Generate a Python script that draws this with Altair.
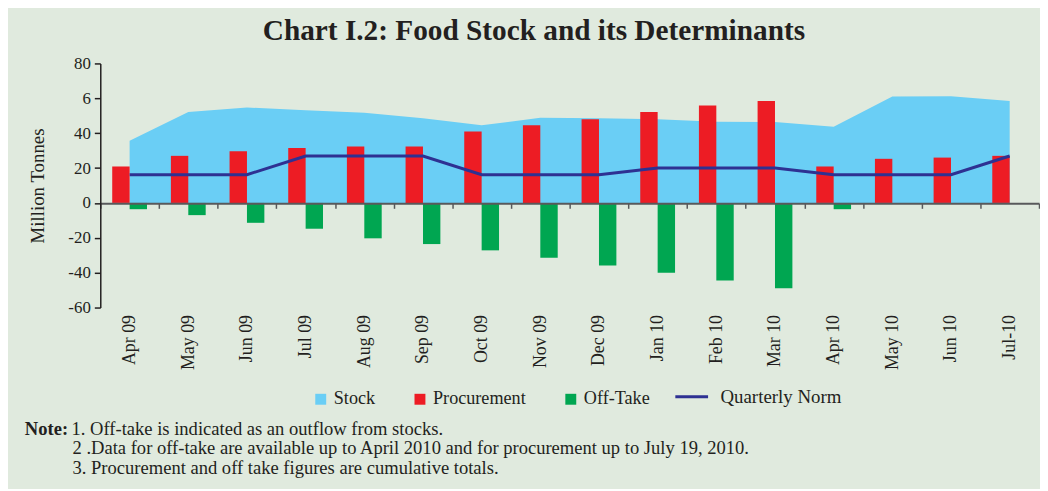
import altair as alt
import pandas as pd

months = ["Apr 09", "May 09", "Jun 09", "Jul 09", "Aug 09", "Sep 09", "Oct 09", "Nov 09",
          "Dec 09", "Jan 10", "Feb 10", "Mar 10", "Apr 10", "May 10", "Jun 10", "Jul-10"]
stock = [35.7, 52.2, 54.7, 53.2, 51.7, 48.5, 44.5, 48.8, 48.6, 48.0, 46.6, 46.4, 43.7, 61.0, 61.2, 58.5]
procurement = [20.9, 27.0, 29.6, 31.5, 32.3, 32.3, 41.0, 44.5, 48.0, 52.2, 55.9, 58.5, 20.9, 25.3, 26.0, 27.0]
offtake = [-3.6, -7.0, -11.4, -14.8, -20.3, -23.6, -27.2, -31.5, -35.9, -40.0, -44.5, -49.0, -3.6, None, None, None]
quarterly_norm = [16.2, 16.2, 16.2, 26.9, 26.9, 26.9, 16.2, 16.2, 16.2, 20.0, 20.0, 20.0, 16.2, 16.2, 16.2, 26.9]

fill_names = ["Stock", "Procurement", "Off-Take"]
fill_colors = ["#6ACEF5", "#ED1C24", "#00A651"]
line_names = ["Quarterly Norm"]
line_colors = ["#2E3192"]
y_ticks = [-60, -40, -20, 0, 20, 40, 60, 80]

title_text = "Chart I.2: Food Stock and its Determinants"
y_title = "Million Tonnes"
note_head = "Note:"
note_lines = [
    "1. Off-take is indicated as an outflow from stocks.",
    "2 .Data for off-take are available up to April 2010 and for procurement up to July 19, 2010.",
    "3. Procurement and off take figures are cumulative totals.",
]

FONT = "Liberation Serif, Times New Roman, serif"
TXT = "#231F20"
BG = "#E0EADE"

stock_df = pd.DataFrame({"month": months, "value": stock, "series": "Stock"})
bar_rows = []
for m, p, o in zip(months, procurement, offtake):
    bar_rows.append({"month": m, "value": p, "series": "Procurement"})
    if o is not None:
        bar_rows.append({"month": m, "value": o, "series": "Off-Take"})
bar_df = pd.DataFrame(bar_rows)
norm_df = pd.DataFrame({"month": months, "value": quarterly_norm, "series": "Quarterly Norm"})

fill = alt.Fill("series:N", scale=alt.Scale(domain=fill_names, range=fill_colors),
                legend=alt.Legend(title=None, orient="none", legendX=213, legendY=329,
                                  direction="horizontal", columns=3, columnPadding=36,
                                  labelOffset=4, symbolSize=121, symbolType="square",
                                  symbolStrokeWidth=0, symbolOpacity=1,
                                  labelFont=FONT, labelFontSize=18.3, labelColor=TXT))
stroke = alt.Stroke("series:N", scale=alt.Scale(domain=line_names, range=line_colors),
                    legend=alt.Legend(title=None, orient="none", legendX=578, legendY=318,
                                      direction="horizontal", labelOffset=11, symbolSize=1089,
                                      symbolType="stroke", symbolStrokeWidth=3,
                                      labelFont=FONT, labelFontSize=19, labelColor=TXT))

x = alt.X("month:N", sort=months, scale=alt.Scale(paddingInner=0, paddingOuter=0),
          axis=alt.Axis(title=None, labelAngle=270, labelAlign="right", labelBaseline="middle",
                        labelFont=FONT, labelFontSize=18, labelColor=TXT, labelPadding=107,
                        offset=-105, tickBand="extent", tickSize=5, tickColor="#58595B",
                        tickWidth=1.5, domainColor="#58595B", domainWidth=2, zindex=1,
                        grid=False))
y = alt.Y("value:Q", scale=alt.Scale(domain=[-60, 80], nice=False, zero=False),
          axis=alt.Axis(values=y_ticks,
                        labelExpr="datum.value === 60 ? '6' : toString(datum.value)",
                        title=y_title, titleFont=FONT, titleFontSize=19, titleFontWeight="normal",
                        titleColor=TXT, titlePadding=21, labelFont=FONT, labelFontSize=17,
                        labelColor=TXT, labelPadding=4, tickSize=6, tickColor="#231F20",
                        domainColor="#231F20", domainWidth=1.5, tickWidth=1.5, grid=False,
                        zindex=1))

area = alt.Chart(stock_df).mark_area(opacity=1).encode(x=x, y=y, y2=alt.datum(0), fill=fill)
bars = alt.Chart(bar_df).mark_bar(opacity=1).encode(
    x=x, y=y, y2=alt.datum(0),
    xOffset=alt.XOffset("series:N", scale=alt.Scale(domain=["Procurement", "Off-Take"],
                                                     paddingOuter=0.686, paddingInner=0)),
    fill=fill)
line = alt.Chart(norm_df).mark_line(strokeWidth=3, opacity=1).encode(x=x, y=y, stroke=stroke)

def note(text, xv, yv, bold=False):
    return alt.Chart(pd.DataFrame({"t": [text]})).mark_text(
        font=FONT, fontSize=18.7, fontWeight="bold" if bold else "normal", color=TXT,
        align="left", baseline="alphabetic").encode(
        x=alt.value(xv), y=alt.value(yv), text="t:N")

notes = [note(note_head, -76, 374, True), note(note_lines[0], -29, 374),
         note(note_lines[1], -28, 394), note(note_lines[2], -28, 413.5)]

chart = alt.layer(area, bars, line, *notes).properties(
    width=946, height=246, autosize="none",
    padding={"left": 93, "top": 54, "right": 1, "bottom": 181},
    background=BG,
    title=alt.Title(title_text, font=FONT, fontSize=29.5, fontWeight="bold", color=TXT,
                    anchor="middle", dx=-36, offset=8),
).configure_view(stroke=None)

chart.save("out.html", embed_options={"renderer": "svg", "actions": False})
